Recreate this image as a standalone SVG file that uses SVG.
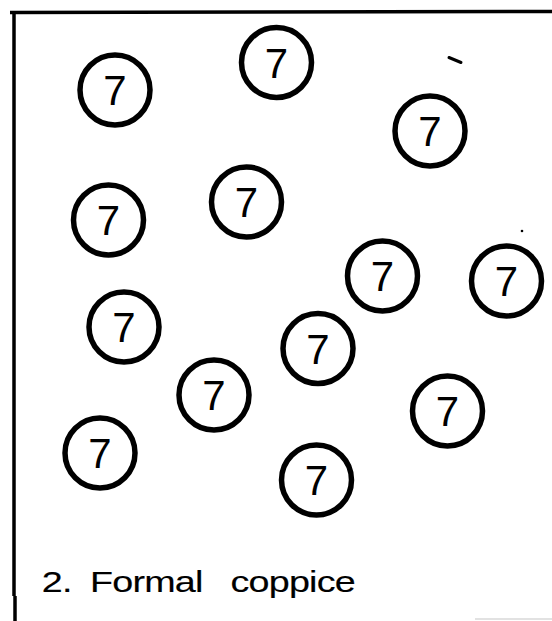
<svg xmlns="http://www.w3.org/2000/svg" width="552" height="621" viewBox="0 0 552 621">
  <style>
    .frame { stroke: #000; stroke-width: 3.5; fill: none; stroke-linecap: butt; }
    .tree circle { fill: #fff; stroke: #000; stroke-width: 5.5; }
    .tree text { font-family: "Liberation Sans", Arial, sans-serif; font-size: 42px; fill: #000; text-anchor: middle; }
    .caption { font-family: "Liberation Sans", Arial, sans-serif; font-size: 29px; fill: #000; stroke: #000; stroke-width: 0.15; letter-spacing: -0.6px; }
    .speck { stroke: #000; stroke-width: 3; stroke-linecap: round; }
  </style>
  <rect x="0" y="0" width="552" height="621" fill="#fff"/>

  <!-- plot border: top and left edges only -->
  <g id="border">
    <line class="frame" x1="10" y1="12.5" x2="552" y2="11.5"/>
    <line class="frame" x1="14" y1="11" x2="14" y2="596"/>
    <line class="frame" x1="15" y1="596" x2="15" y2="621"/>
    <line x1="475" y1="619" x2="552" y2="619" stroke="#e2e2e2" stroke-width="2"/>
  </g>

  <!-- small marks -->
  <line class="speck" x1="449" y1="57.5" x2="461" y2="62.5"/>
  <circle cx="522" cy="231" r="1.3" fill="#000"/>

  <!-- coppice stools, each marked 7 -->
  <g id="tree1" class="tree"><circle cx="115" cy="90" r="35"/><text x="115" y="105">7</text></g>
  <g id="tree2" class="tree"><circle cx="276.5" cy="62.5" r="35"/><text x="276.5" y="77.5">7</text></g>
  <g id="tree3" class="tree"><circle cx="430" cy="131" r="35"/><text x="430" y="146">7</text></g>
  <g id="tree4" class="tree"><circle cx="108.5" cy="220" r="35"/><text x="108.5" y="235">7</text></g>
  <g id="tree5" class="tree"><circle cx="246.5" cy="202" r="35"/><text x="246.5" y="217">7</text></g>
  <g id="tree6" class="tree"><circle cx="382.5" cy="276" r="35"/><text x="382.5" y="291">7</text></g>
  <g id="tree7" class="tree"><circle cx="506.5" cy="281" r="35"/><text x="506.5" y="296">7</text></g>
  <g id="tree8" class="tree"><circle cx="124" cy="327" r="35"/><text x="124" y="342">7</text></g>
  <g id="tree9" class="tree"><circle cx="318" cy="348.5" r="35"/><text x="318" y="363.5">7</text></g>
  <g id="tree10" class="tree"><circle cx="214" cy="395" r="35"/><text x="214" y="410">7</text></g>
  <g id="tree11" class="tree"><circle cx="447.5" cy="411" r="35"/><text x="447.5" y="426">7</text></g>
  <g id="tree12" class="tree"><circle cx="100" cy="453" r="35"/><text x="100" y="468">7</text></g>
  <g id="tree13" class="tree"><circle cx="316.5" cy="480" r="35"/><text x="316.5" y="495">7</text></g>

  <!-- caption, set in a horizontally widened face -->
  <text id="caption" class="caption" transform="translate(0,592) scale(1.3,1)" y="0"><tspan x="32.2">2.</tspan><tspan x="69.2">Formal</tspan><tspan x="177.3">coppice</tspan></text>
</svg>
